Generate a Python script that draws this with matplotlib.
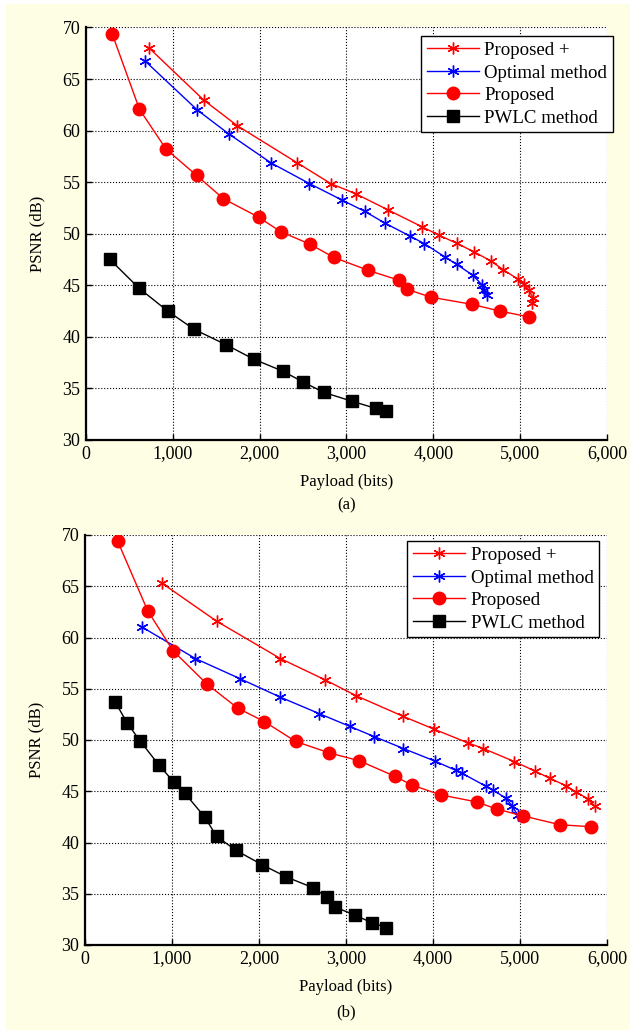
import matplotlib
matplotlib.use('Agg')
import matplotlib.pyplot as plt
from matplotlib.patches import Rectangle
from matplotlib.ticker import FuncFormatter

# (a)
prop_plus_a_x = [731, 1356, 1743, 2434, 2818, 3110, 3481, 3873, 4060, 4267, 4463, 4663, 4804, 4973, 5046, 5100, 5153, 5134]
prop_plus_a_y = [67.98, 62.96, 60.47, 56.87, 54.87, 53.86, 52.3, 50.66, 49.88, 49.08, 48.27, 47.36, 46.52, 45.6, 45.16, 44.5, 43.77, 43.3]
optimal_a_x = [677, 1283, 1648, 2131, 2572, 2952, 3208, 3438, 3734, 3895, 4133, 4267, 4456, 4566, 4589, 4617]
optimal_a_y = [66.78, 61.99, 59.66, 56.87, 54.87, 53.25, 52.18, 51.05, 49.76, 49.05, 47.75, 47.04, 45.97, 45.0, 44.58, 44.03]
proposed_a_x = [301, 616, 923, 1275, 1582, 1989, 2242, 2576, 2856, 3250, 3602, 3702, 3972, 4448, 4766, 5096]
proposed_a_y = [69.4, 62.06, 58.2, 55.65, 53.4, 51.6, 50.2, 49.0, 47.7, 46.45, 45.5, 44.6, 43.85, 43.15, 42.5, 41.95]
pwlc_a_x = [274, 608, 941, 1245, 1613, 1931, 2265, 2503, 2741, 3059, 3339, 3450]
pwlc_a_y = [47.52, 44.74, 42.5, 40.73, 39.24, 37.84, 36.68, 35.61, 34.61, 33.77, 33.06, 32.77]

# (b)
prop_plus_b_x = [881, 1513, 2245, 2759, 3111, 3659, 4011, 4398, 4579, 4934, 5172, 5345, 5529, 5640, 5778, 5862]
prop_plus_b_y = [65.32, 61.59, 57.95, 55.87, 54.34, 52.3, 51.06, 49.73, 49.17, 47.9, 46.97, 46.25, 45.54, 44.95, 44.27, 43.52]
optimal_b_x = [659, 1268, 1785, 2245, 2690, 3046, 3322, 3659, 4023, 4264, 4330, 4613, 4686, 4840, 4905, 4972]
optimal_b_y = [61.0, 57.95, 55.97, 54.18, 52.58, 51.32, 50.34, 49.17, 47.94, 47.03, 46.77, 45.47, 45.15, 44.3, 43.6, 42.7]
proposed_b_x = [376, 720, 1011, 1398, 1755, 2061, 2421, 2805, 3153, 3567, 3759, 4090, 4502, 4732, 5034, 5460, 5816]
proposed_b_y = [69.39, 62.62, 58.72, 55.48, 53.11, 51.8, 49.86, 48.75, 47.97, 46.44, 45.6, 44.64, 43.96, 43.26, 42.6, 41.73, 41.54]
pwlc_b_x = [345, 483, 632, 852, 1025, 1146, 1376, 1513, 1736, 2034, 2314, 2621, 2782, 2870, 3100, 3295, 3460]
pwlc_b_y = [53.75, 51.68, 49.92, 47.53, 45.86, 44.82, 42.48, 40.6, 39.23, 37.84, 36.64, 35.59, 34.65, 33.71, 32.93, 32.18, 31.7]

labels = ['Proposed +', 'Optimal method', 'Proposed', 'PWLC method']
x_ticks = [0, 1000, 2000, 3000, 4000, 5000, 6000]
y_ticks = [30, 35, 40, 45, 50, 55, 60, 65, 70]

plt.rcParams['font.family'] = ['Liberation Serif', 'DejaVu Serif']
plt.rcParams['font.size'] = 13

W, H = 630, 1032
fig = plt.figure(figsize=(W / 100, H / 100), dpi=100)
fig.patch.set_facecolor('white')
fig.patches.append(Rectangle((6 / W, 2 / H), 1 - 6 / W, 1 - 6 / H, transform=fig.transFigure,
                             facecolor='#FEFEE4', edgecolor='none', zorder=-10))

asterisk = (6, 2, 0)


def panel(rect, data, leg_anchor, caption_y, caption):
    ax = fig.add_axes(rect)
    ax.set_facecolor('white')
    (ppx, ppy), (opx, opy), (prx, pry), (pwx, pwy) = data
    ax.plot(ppx, ppy, color='#FF0000', lw=1.0, marker=asterisk, ms=8.5, mew=1.0, label=labels[0])
    ax.plot(opx, opy, color='#0000FF', lw=1.0, marker=asterisk, ms=8.5, mew=1.0, label=labels[1])
    ax.plot(prx, pry, color='#FF0000', lw=1.0, marker='o', ms=9, label=labels[2])
    ax.plot(pwx, pwy, color='black', lw=1.0, marker='s', ms=8, label=labels[3])

    ax.set_xlim(0, 6000)
    ax.set_ylim(30, 70)
    ax.set_xticks(x_ticks)
    ax.set_yticks(y_ticks)
    ax.xaxis.set_major_formatter(FuncFormatter(lambda v, p: f'{int(v):,}'))
    ax.grid(True, linestyle=':', color='black', lw=0.8)
    ax.tick_params(direction='in', length=4, width=1, labelsize=13, pad=4)
    for s in ['top', 'right']:
        ax.spines[s].set_visible(False)
    for s in ['left', 'bottom']:
        ax.spines[s].set_linewidth(1.6)

    ax.set_ylabel('PSNR (dB)', fontsize=12, labelpad=12)
    ax.set_xlabel('Payload (bits)', fontsize=12, labelpad=8)

    leg = ax.legend(loc='upper right', bbox_to_anchor=leg_anchor, numpoints=1, fontsize=13.6,
                    fancybox=False, framealpha=1, edgecolor='black', handlelength=2.75,
                    labelspacing=0.28, borderpad=0.3, handletextpad=0.3, borderaxespad=0)
    leg.get_frame().set_linewidth(1.0)

    fig.text(rect[0] + rect[2] / 2, caption_y, caption, ha='center', va='center', fontsize=12)
    return ax


top_rect = [86 / W, 1 - 440 / H, 521 / W, 412.5 / H]
bot_rect = [85 / W, 1 - 945 / H, 522 / W, 410 / H]

panel(top_rect,
      [(prop_plus_a_x, prop_plus_a_y), (optimal_a_x, optimal_a_y),
       (proposed_a_x, proposed_a_y), (pwlc_a_x, pwlc_a_y)],
      (1.0115, 0.979), 1 - 505 / H, '(a)')
panel(bot_rect,
      [(prop_plus_b_x, prop_plus_b_y), (optimal_b_x, optimal_b_y),
       (proposed_b_x, proposed_b_y), (pwlc_b_x, pwlc_b_y)],
      (0.985, 0.985), 1 - 1012 / H, '(b)')

fig.savefig('out.png', dpi=100, facecolor=fig.get_facecolor())
